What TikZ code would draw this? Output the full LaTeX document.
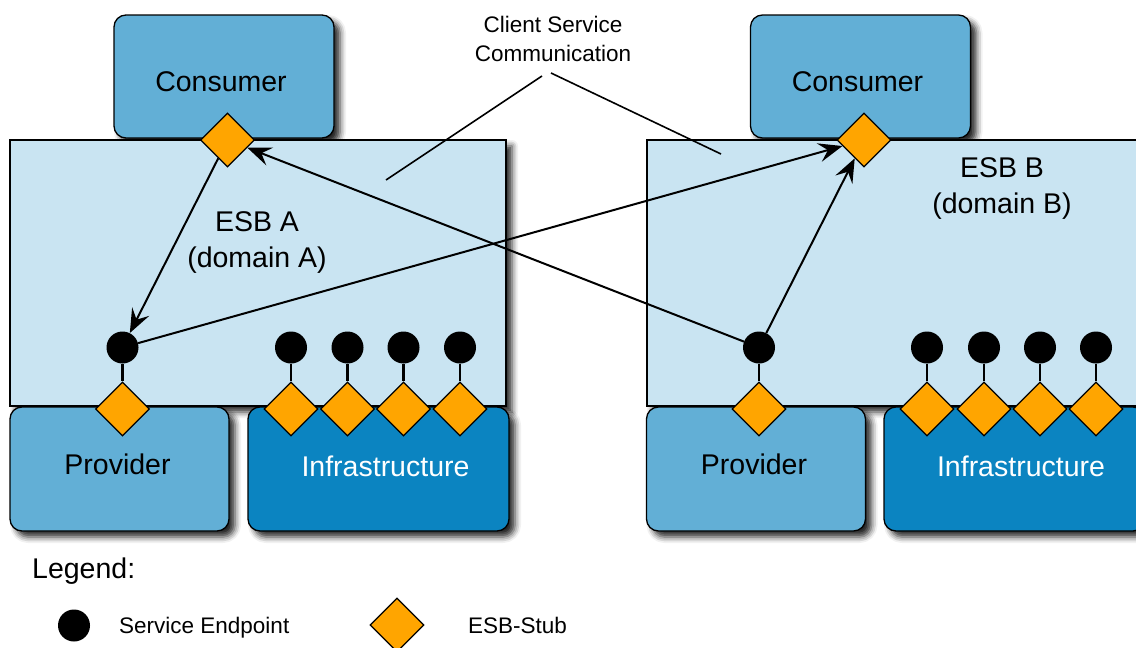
\documentclass[tikz,border=0pt]{standalone}
\usepackage{fontspec}
\setmainfont{Liberation Sans}
\usetikzlibrary{arrows.meta,shapes.geometric,shadows.blur}
\definecolor{esbfill}{HTML}{C9E4F2}
\definecolor{partyfill}{HTML}{62AFD6}
\definecolor{infrafill}{HTML}{0B84C1}
\definecolor{stubfill}{HTML}{FFA500}
\pgfdeclarelayer{boxes}
\pgfdeclarelayer{wires}
\pgfsetlayers{boxes,wires,main}

\begin{document}
\begin{tikzpicture}[x=1pt,y=-1pt,
  boxshadow/.style={blur shadow={shadow xshift=6pt,shadow yshift=-6pt,shadow blur radius=6pt,shadow opacity=85}},
  busbox/.style={draw=black,line width=1.3pt,fill=esbfill,inner sep=0pt,boxshadow},
  partybox/.style={draw=black,line width=1.3pt,fill=partyfill,rounded corners=12pt,inner sep=0pt,boxshadow},
  infrabox/.style={draw=black,line width=1.3pt,fill=infrafill,rounded corners=12pt,inner sep=0pt,boxshadow},
  bigtext/.style={font=\fontsize{28.5}{36}\selectfont,inner sep=0pt,align=center},
  smalltext/.style={font=\fontsize{22.5}{29}\selectfont,inner sep=0pt,align=center},
  endpoint/.style={circle,fill=black,minimum size=32pt,inner sep=0pt},
  stub/.style={diamond,draw=black,line width=1.2pt,fill=stubfill,minimum width=54pt,minimum height=54pt,inner sep=0pt},
  flow/.style={line width=2pt,-{Stealth[length=24pt,width=19pt,inset=9pt]}},
  stem/.style={line width=2.2pt},
  pointer/.style={line width=1.6pt}
]
\useasboundingbox (0,0) rectangle (1136,648);

% --- boxes of both domains
\begin{pgfonlayer}{boxes}
  \node[partybox,minimum width=220pt,minimum height=123pt] (consA) at (224,76.5) {};
  \node[partybox,minimum width=220pt,minimum height=123pt] (consB) at (860.5,76.5) {};
  \node[busbox,minimum width=496pt,minimum height=266pt] (esbA) at (258,273) {};
  \node[busbox,minimum width=496pt,minimum height=266pt] (esbB) at (895,273) {};
  \node[partybox,minimum width=219pt,minimum height=124pt] (provA) at (119.5,469) {};
  \node[partybox,minimum width=219pt,minimum height=124pt] (provB) at (756,469) {};
  \node[infrabox,minimum width=261pt,minimum height=124pt] (infraA) at (378.5,469) {};
  \node[infrabox,minimum width=261pt,minimum height=124pt] (infraB) at (1014.5,469) {};
\end{pgfonlayer}

% --- labels
\node[bigtext] (consAtext) at (221,81.5) {Consumer};
\node[bigtext] (consBtext) at (857.5,81.5) {Consumer};
\node[bigtext] (esbAtext) at (257,242.5) {ESB A\\(domain A)};
\node[bigtext] (esbBtext) at (1002,188.5) {ESB B\\(domain B)};
\node[bigtext] (provAtext) at (117.5,464.6) {Provider};
\node[bigtext] (provBtext) at (754,464.6) {Provider};
\node[bigtext,text=white] (infraAtext) at (385.5,466.3) {Infrastructure};
\node[bigtext,text=white] (infraBtext) at (1021,466.3) {Infrastructure};
\node[smalltext] (client) at (553,39.3) {Client Service\\Communication};

% --- callout lines
\coordinate (callLtop) at (542,76);
\coordinate (callLend) at (386,180);
\coordinate (callRtop) at (551,73);
\coordinate (callRend) at (721,154);
\draw[pointer] (callLtop) -- (callLend);
\draw[pointer] (callRtop) -- (callRend);

% --- consumer stubs
\node[stub] (stubA) at (227.5,140) {};
\node[stub] (stubB) at (864,140) {};

% --- provider endpoints and stubs
\node[endpoint] (epA) at (122.5,347.5) {};
\node[stub] (pstubA) at (122.5,409) {};
\node[endpoint] (epB) at (759,347.5) {};
\node[stub] (pstubB) at (759,409) {};

% --- infrastructure endpoints and stubs
\foreach \i/\x in {1/291,2/347.5,3/403.5,4/460}{
  \node[endpoint] (iepA\i) at (\x,347.5) {};
  \node[stub] (istubA\i) at (\x,409) {};
}
\foreach \i/\x in {1/927,2/984,3/1040,4/1096}{
  \node[endpoint] (iepB\i) at (\x,347.5) {};
  \node[stub] (istubB\i) at (\x,409) {};
}

\begin{pgfonlayer}{wires}
  \draw[stem] (epA) -- (pstubA);
  \draw[stem] (epB) -- (pstubB);
  \foreach \i in {1,...,4}{
    \draw[stem] (iepA\i) -- (istubA\i);
    \draw[stem] (iepB\i) -- (istubB\i);
  }
  % message flows
  \draw[flow] (stubA) -- (epA);
  \draw[flow] (epA) -- (stubB);
  \draw[flow] (epB) -- (stubA);
  \draw[flow] (epB) -- (stubB);
\end{pgfonlayer}

% --- legend
\node[anchor=base west,inner sep=0pt,font=\fontsize{28.5}{34}\selectfont] (legend) at (32,578) {Legend:};
\node[endpoint] (legEp) at (74,625.5) {};
\node[anchor=base west,inner sep=0pt,font=\fontsize{22.5}{27}\selectfont] (legEpText) at (119,633) {Service Endpoint};
\node[stub] (legStub) at (397,625) {};
\node[anchor=base west,inner sep=0pt,font=\fontsize{22.5}{27}\selectfont] (legStubText) at (468,633) {ESB-Stub};
\end{tikzpicture}
\end{document}
